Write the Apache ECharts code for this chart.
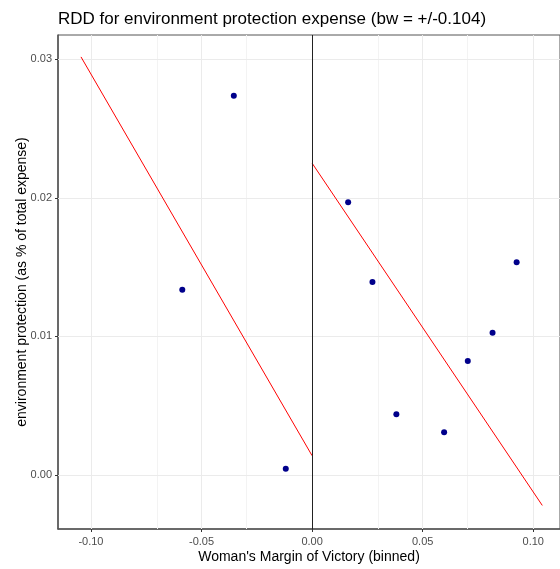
<!DOCTYPE html>
<html>
<head>
<meta charset="utf-8">
<script src="https://cdn.jsdelivr.net/npm/echarts@6/dist/echarts.min.js"></script>
<style>
    html, body { margin: 0; padding: 0; background: #fff; }
    #chart { width: 560px; height: 569px; }
</style>
</head>
<body>
<div id="chart"></div>
<script>
// binned means
const binX = [-0.0587, -0.0354, -0.0119, 0.0163, 0.0273, 0.0381, 0.0597, 0.0704, 0.0816, 0.0925]
const binY = [0.01337, 0.02737, 0.00045, 0.01968, 0.01393, 0.00438, 0.00308, 0.00823, 0.01027, 0.01535]
// fitted lines (end points)
const leftFitX = [-0.1045, 0]
const leftFitY = [0.03017, 0.00139]
const rightFitX = [0, 0.1041]
const rightFitY = [0.0225, -0.0022]
// ticks
const xTicks = [-0.1, -0.05, 0, 0.05, 0.1]
const xMinor = [-0.075, -0.025, 0.025, 0.075]
const yTicks = [0, 0.01, 0.02, 0.03]
const yMinor = [0.005, 0.015, 0.025]

const chart = echarts.init(document.getElementById('chart'), null, {renderer: 'canvas'})

function vLines(vals) { return vals.map(v => ({ xAxis: v })) }
function hLines(vals) { return vals.map(v => ({ yAxis: v })) }
function gridSeries(data, color, z) {
    return {
        type: 'scatter',
        data: [],
        z: z,
        silent: true,
        markLine: {
            z: z,
            silent: true,
            symbol: 'none',
            label: { show: false },
            animation: false,
            lineStyle: { color: color, width: 1, type: 'solid' },
            data: data,
        },
    }
}

chart.setOption({
    animation: false,
    title: {
        text: 'RDD for environment protection expense (bw = +/-0.104)',
        left: 53,
        top: 6,
        textStyle: { fontFamily: 'Liberation Sans', fontSize: 17, fontWeight: 'normal', color: '#000' },
    },
    grid: {
        left: 58, top: 35, right: 0, bottom: 40,
        show: true, borderColor: '#555', borderWidth: 1,
    },
    xAxis: {
        type: 'value',
        min: -0.1149,
        max: 0.1121,
        name: "Woman's Margin of Victory (binned)",
        nameLocation: 'middle',
        nameGap: 21,
        nameMoveOverlap: false,
        nameTextStyle: { fontFamily: 'Liberation Sans', fontSize: 14, color: '#000' },
        axisLine: { onZero: false, lineStyle: { color: '#555', width: 1.5 }},
        axisTick: { customValues: xTicks, length: 3, lineStyle: { color: '#333' }},
        axisLabel: {
            customValues: xTicks, margin: 7,
            fontFamily: 'Liberation Sans', fontSize: 11, color: '#4d4d4d',
            formatter: v => v.toFixed(2),
        },
        splitLine: { show: false },
    },
    yAxis: {
        type: 'value',
        min: -0.0039,
        max: 0.03175,
        name: 'environment protection (as % of total expense)',
        nameLocation: 'middle',
        nameGap: 29,
        nameMoveOverlap: false,
        nameTextStyle: { fontFamily: 'Liberation Sans', fontSize: 14, color: '#000' },
        axisLine: { show: true, onZero: false, lineStyle: { color: '#555', width: 1.5 }},
        axisTick: { show: true, customValues: yTicks, length: 3, lineStyle: { color: '#333' }},
        axisLabel: {
            customValues: yTicks, margin: 6,
            fontFamily: 'Liberation Sans', fontSize: 11, color: '#4d4d4d',
            formatter: v => v.toFixed(2),
        },
        splitLine: { show: false },
    },
    series: [
        gridSeries(vLines(xMinor).concat(hLines(yMinor)), '#f3f3f3', 1),
        gridSeries(vLines(xTicks).concat(hLines(yTicks)), '#ebebeb', 2),
        {
            type: 'line',
            data: leftFitX.map((x, i) => [x, leftFitY[i]]),
            showSymbol: false,
            z: 3,
            lineStyle: { color: '#ff0000', width: 1 },
        },
        {
            type: 'line',
            data: rightFitX.map((x, i) => [x, rightFitY[i]]),
            showSymbol: false,
            z: 3,
            lineStyle: { color: '#ff0000', width: 1 },
        },
        gridSeries(vLines([0]), '#222', 4),
        {
            type: 'scatter',
            data: binX.map((x, i) => [x, binY[i]]),
            symbolSize: 6,
            z: 6,
            itemStyle: { color: '#00008b', opacity: 1 },
        },
    ],
})
</script>
</body>
</html>
